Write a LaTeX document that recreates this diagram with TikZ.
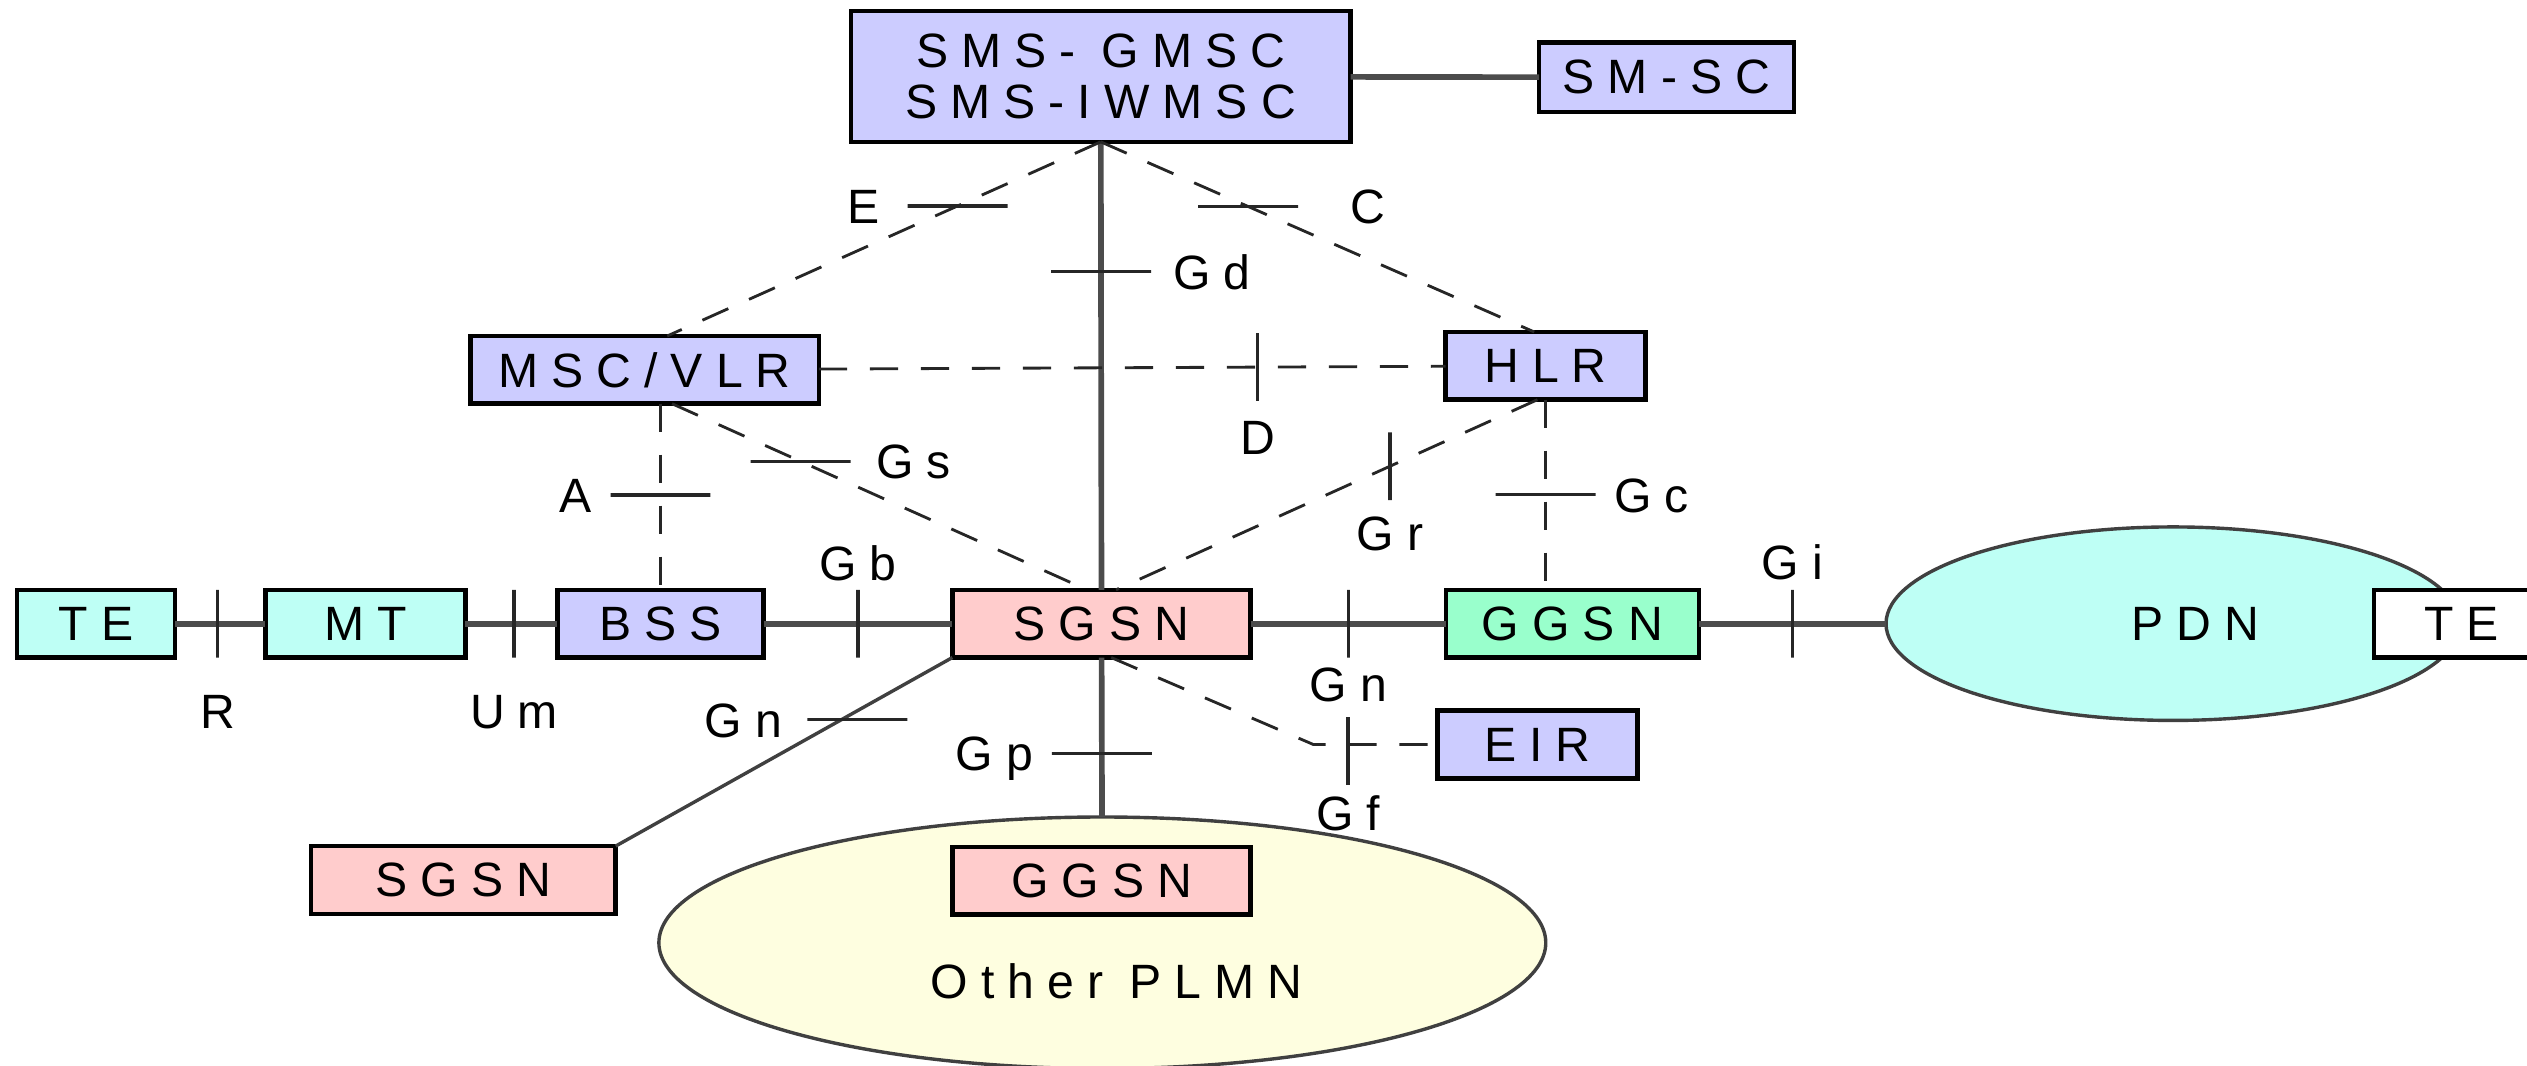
\documentclass[tikz,border=0pt]{standalone}
\usepackage{fontspec}
\setmainfont{Liberation Sans}[LetterSpace=27]
\usepackage{tikz}
\usetikzlibrary{positioning,shapes.geometric}

\definecolor{netblue}{HTML}{CCCCFF}
\definecolor{netcyan}{HTML}{BEFFF5}
\definecolor{netpink}{HTML}{FFCCCC}
\definecolor{netgreen}{HTML}{99FFCC}
\definecolor{netcream}{HTML}{FEFEE0}

\begin{document}
\begin{tikzpicture}[
  x=0.01cm, y=-0.01cm, font=\fontsize{8.5}{9}\selectfont,
  nd/.style={draw, line width=0.8pt, minimum height=0.42cm, inner sep=0pt,
             outer sep=0pt, align=center},
  net/.style={ellipse, draw=black!75, line width=0.6pt, inner sep=0pt,
              outer sep=0pt},
  link/.style={draw=black!70, line width=1pt},
  iface/.style={draw=black!85, line width=0.5pt, dash pattern=on 5pt off 4pt},
  tickh/.style={draw=black!85, solid, line width=0.6pt, minimum width=0.62cm,
                minimum height=0pt, inner sep=0pt, outer sep=0pt},
  tickv/.style={tickh, minimum width=0pt, minimum height=0.42cm},
  lbl/.style={inner sep=0pt, text height=6.1pt, text depth=0pt},
]
  \useasboundingbox (0,0) rectangle (1568,661);

  % network elements
  \node[nd, fill=netblue, minimum width=3.10cm, minimum height=0.81cm] (gmsc) at (683,47.5) {SMS- GMSC\\SMS-IWMSC};
  \node[nd, fill=netblue, minimum width=1.58cm, minimum height=0.43cm] (smsc) at (1034,48) {SM-SC};
  \node[nd, fill=netblue, minimum width=2.16cm] (msc) at (400,229.5) {MSC/VLR};
  \node[nd, fill=netblue, minimum width=1.24cm] (hlr) at (959,227) {HLR};
  \node[nd, fill=netpink, minimum width=1.85cm] (sgsn) at (683.5,387) {SGSN};
  \node[nd, fill=netblue, minimum width=1.28cm, left=1.17cm of sgsn] (bss) {BSS};
  \node[nd, fill=netcyan, minimum width=1.24cm, left=0.57cm of bss] (mt) {MT};
  \node[nd, fill=netcyan, minimum width=0.98cm, left=0.56cm of mt] (te) {TE};
  \node[nd, fill=netgreen, minimum width=1.57cm, right=1.21cm of sgsn] (ggsn) {GGSN};
  \node[net, fill=netcyan, minimum width=3.56cm, minimum height=1.2cm, right=1.16cm of ggsn] (pdn) {\hspace{0.28cm}PDN};
  \node[nd, fill=white, minimum width=1.09cm] (te2) at (1527.5,387) {TE};
  \node[nd, fill=netblue, minimum width=1.24cm] (eir) at (954,462) {EIR};
  \node[nd, fill=netpink, minimum width=1.89cm] (sgsn2) at (287.5,546) {SGSN};
  \node[net, fill=netcream, minimum width=5.50cm, minimum height=1.56cm] (plmn) at (684,585) {};
  \node at ([xshift=0.09cm, yshift=-0.24cm]plmn.center) {Other PLMN};
  \node[nd, fill=netpink, minimum width=1.85cm] (ggsn2) at (683.5,546.5) {GGSN};

  % solid links
  \draw[link] (gmsc) -- (smsc);
  \draw[link] (gmsc) -- node[tickh, pos=0.29] (gd) {} (sgsn);
  \draw[link] (te) -- node[tickv, pos=0.47] (r) {} (mt);
  \draw[link] (mt) -- node[tickv, pos=0.53] (um) {} (bss);
  \draw[link] (bss) -- node[tickv] (gb) {} (sgsn);
  \draw[link] (sgsn) -- node[tickv] (gn) {} (ggsn);
  \draw[link] (ggsn) -- node[tickv] (gi) {} (pdn);
  \draw[link] (sgsn) -- node[tickh, pos=0.6] (gp) {} (plmn);
  \draw[draw=black!75, line width=0.6pt] (sgsn.south west) -- node[tickh, pos=0.33, xshift=1mm] (gn2) {} (sgsn2.north east);

  % signalling interfaces
  \draw[iface] (gmsc.south) -- node[tickh, pos=0.33] (e) {} ([xshift=1.4mm]msc.north);
  \draw[iface] (gmsc.south) -- node[tickh, pos=0.34] (c) {} ([xshift=-0.7mm]hlr.north);
  \draw[iface] (msc) -- node[tickv, pos=0.7] (d) {} (hlr);
  \draw[iface] (msc.south -| bss.north) -- node[tickh, pos=0.49] (a) {} (bss.north);
  \draw[iface] ([xshift=1.7mm]msc.south) -- node[tickh, pos=0.31] (gs) {} ([xshift=-0.9mm]sgsn.north);
  \draw[iface] ([xshift=-0.5mm]hlr.south) -- node[tickv, pos=0.35] (gr) {} ([xshift=0.9mm]sgsn.north);
  \draw[iface] (hlr.south) -- node[tickh] (gc) {} (hlr.south |- ggsn.north);
  \coordinate (gfbend) at (815,462);
  \draw[iface] ([xshift=0.6mm]sgsn.south) -- (gfbend) -- node[tickv, pos=0.28, yshift=-0.4mm] (gf) {} (eir.west);

  % interface names
  \node[lbl, right=0.13cm of gd] {Gd};
  \node[lbl, left=0.17cm of e] {E};
  \node[lbl, right=0.32cm of c] {C};
  \node[lbl, below=0.11cm of d] {D};
  \node[lbl, left=0.11cm of a] {A};
  \node[lbl, right=0.15cm of gs] {Gs};
  \node[lbl, below=0.09cm of gr] {Gr};
  \node[lbl, right=0.11cm of gc] {Gc};
  \node[lbl, below=0.22cm of r] {R};
  \node[lbl, below=0.22cm of um] {Um};
  \node[lbl, above=0.05cm of gb] {Gb};
  \node[lbl, below=0.05cm of gn] {Gn};
  \node[lbl, above=0.06cm of gi] {Gi};
  \node[lbl, left=0.15cm of gn2] {Gn};
  \node[lbl, left=0.11cm of gp] {Gp};
  \node[lbl, below=0.06cm of gf] {Gf};
\end{tikzpicture}
\end{document}
